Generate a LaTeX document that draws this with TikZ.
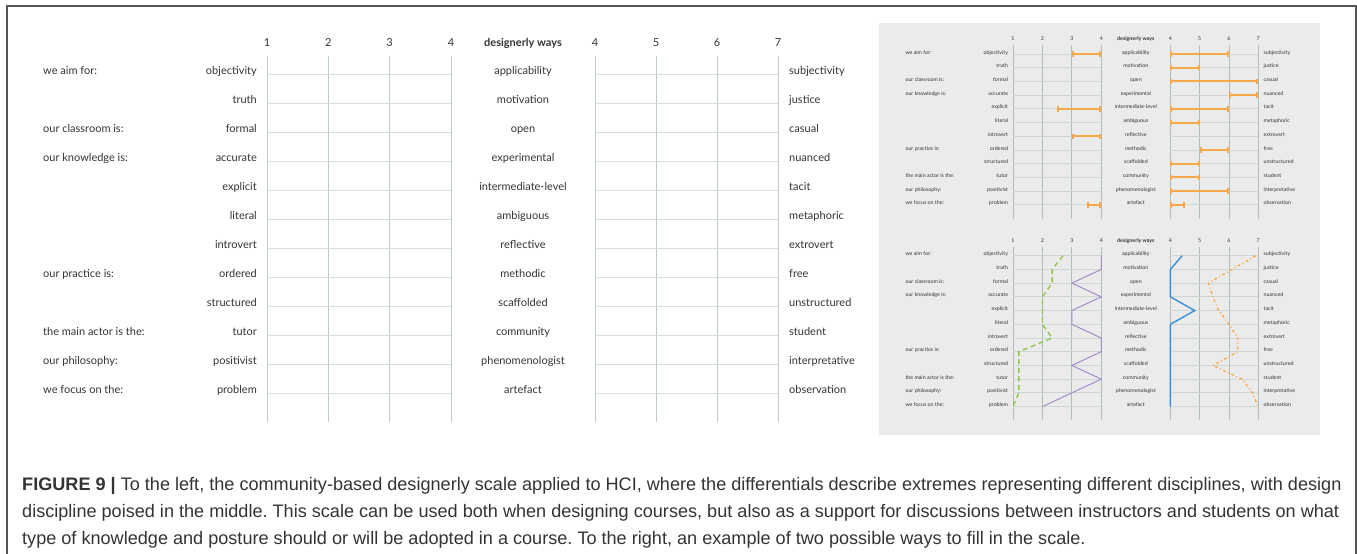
\documentclass[tikz,border=0pt]{standalone}
\usepackage{fontspec}
\setmainfont{Lato}
\newfontfamily\capfont{Liberation Sans}
\usetikzlibrary{arrows.meta}
\frenchspacing

\definecolor{frameline}{HTML}{555555}
\definecolor{labtext}{HTML}{333333}
\definecolor{minitext}{HTML}{222222}
\definecolor{captext}{HTML}{333333}
\definecolor{gridv}{HTML}{BCCBC6}
\definecolor{gridh}{HTML}{D5E0DC}
\definecolor{minigridv}{HTML}{B0BFBA}
\definecolor{minigridh}{HTML}{CCD6D3}
\definecolor{panelbg}{HTML}{EBEBEB}
\definecolor{rangeorange}{HTML}{F5A94A}
\definecolor{limegreen}{HTML}{8CC63F}
\definecolor{lavender}{HTML}{A58CC8}
\definecolor{skyblue}{HTML}{3B8ED6}

\tikzset{
  lab/.style={font=\fontsize{11}{13}\selectfont, text=labtext, inner sep=0pt},
  headlab/.style={lab, anchor=base},
  captionline/.style={font=\capfont\fontsize{18.1}{20}\selectfont, text=captext, inner sep=0pt, anchor=base west},
  rangebar/.style={draw=rangeorange, line width=2pt, {Bar[width=5.5pt]}-{Bar[width=5.5pt]}},
  miniscale/.style={xscale=0.48, yscale=0.473, every node/.append style={transform shape}},
}

% One complete semantic-differential scale; #1 = node-name prefix,
% #2 / #3 = colours of the vertical / horizontal rules, #4 = text colour.
\newcommand{\drawscale}[4]{%
  \foreach \x in {267,328.33,389.67,451,595,656,717,778}
    \draw[line width=0.8pt, draw=#2] (\x,56) -- (\x,422);
  \foreach \i in {0,...,11}{
    \draw[line width=0.8pt, draw=#3] (267,{ry(\i)}) -- (451,{ry(\i)});
    \draw[line width=0.8pt, draw=#3] (595,{ry(\i)}) -- (778,{ry(\i)});
  }
  \begin{scope}[every node/.append style={text=#4}]
  \foreach \n in {1,2,3,4}
    \node[headlab] (#1left\n) at ({lx(\n)},46) {\n};
  \foreach \n in {4,5,6,7}
    \node[headlab] (#1right\n) at ({rx(\n)},46) {\n};
  \node[headlab, font=\fontsize{11}{13}\selectfont\bfseries] (#1head) at (523,46) {designerly ways};
  \foreach \l/\m/\r [count=\i from 0] in {
      objectivity/applicability/subjectivity,
      truth/motivation/justice,
      formal/open/casual,
      accurate/experimental/nuanced,
      explicit/intermediate-level/tacit,
      literal/ambiguous/metaphoric,
      introvert/reflective/extrovert,
      ordered/methodic/free,
      structured/scaffolded/unstructured,
      tutor/community/student,
      positivist/phenomenologist/interpretative,
      problem/artefact/observation}{
    \node[lab, anchor=base east] (#1l\i) at (257,{ry(\i)}) {\l};
    \node[lab, anchor=base] (#1m\i) at (523,{ry(\i)}) {\m};
    \node[lab, anchor=base west] (#1r\i) at (789,{ry(\i)}) {\r};
  }
  \foreach \g/\i in {we aim for:/0, our classroom is:/2, our knowledge is:/3,
      our practice is:/7, the main actor is the:/9, our philosophy:/10,
      we focus on the:/11}
    \node[lab, anchor=base west] (#1g\i) at (43,{ry(\i)}) {\g};
  \end{scope}
}

\begin{document}
\begin{tikzpicture}[x=1pt, y=-1pt,
  declare function={lx(\v)=267+61.333*(\v-1); rx(\v)=595+61*(\v-4); ry(\i)=74+29*\i;}]
\useasboundingbox (0,0) rectangle (1357,554);

% outer frame, open at the bottom
\draw[frameline, line width=1.2pt] (7,554) -- (7,6) -- (1356,6) -- (1356,554);

% blank scale
\drawscale{A}{gridv}{gridh}{labtext}

% examples panel
\fill[panelbg] (879,23) rectangle (1320,435);

% example 1: ranges
\begin{scope}[shift={(884.8,19)}, miniscale]
  \drawscale{B}{minigridv}{minigridh}{minitext}
  \draw[rangebar] ({lx(3)},{ry(0)}) -- ({lx(4)},{ry(0)});
  \draw[rangebar] ({lx(2.5)},{ry(4)}) -- ({lx(4)},{ry(4)});
  \draw[rangebar] ({lx(3)},{ry(6)}) -- ({lx(4)},{ry(6)});
  \draw[rangebar] ({lx(3.5)},{ry(11)}) -- ({lx(4)},{ry(11)});
  \foreach \a/\b/\i in {4/6/0, 4/5/1, 4/7/2, 6/7/3, 4/6/4, 4/5/5, 5/6/7,
      4/5/8, 4/5/9, 4/6/10, 4/4.5/11}
    \draw[rangebar] ({rx(\a)},{ry(\i)}) -- ({rx(\b)},{ry(\i)});
\end{scope}

% example 2: profiles
\begin{scope}[shift={(884.8,220.7)}, miniscale]
  \drawscale{C}{minigridv}{minigridh}{minitext}
  \draw[limegreen, line width=1.3pt, dash pattern=on 5pt off 3.5pt]
    ({lx(2.7)},{ry(0)})
    \foreach \v [count=\i from 1] in {2.33,2.33,2,2,2,2.33,1.2,1.2,1.2,1.2,1}
      { -- ({lx(\v)},{ry(\i)}) };
  \draw[lavender, line width=1pt, line join=miter]
    ({lx(4)},{ry(0)})
    \foreach \v [count=\i from 1] in {4,3,4,3,3,4,4,3,4,3,2}
      { -- ({lx(\v)},{ry(\i)}) };
  \draw[skyblue, line width=1.4pt]
    ({rx(4.4)},{ry(0)})
    \foreach \v [count=\i from 1] in {4,4,4,4.83,4,4,4,4,4,4,4}
      { -- ({rx(\v)},{ry(\i)}) };
  \draw[rangeorange, line width=1.3pt, dash pattern=on 3pt off 2.5pt on 1pt off 2.5pt]
    ({rx(6.92)},{ry(0)})
    \foreach \v [count=\i from 1] in {6.1,5.3,5.45,5.65,6,6.3,6.3,5.45,6.45,6.8,7}
      { -- ({rx(\v)},{ry(\i)}) };
\end{scope}

% caption
\node[captionline] (cap1) at (22,490) {\textbf{FIGURE 9 |} To the left, the community-based designerly scale applied to HCI, where the differentials describe extremes representing different disciplines, with design};
\node[captionline] (cap2) at (22,517) {discipline poised in the middle. This scale can be used both when designing courses, but also as a support for discussions between instructors and students on what};
\node[captionline] (cap3) at (22,544) {type of knowledge and posture should or will be adopted in a course. To the right, an example of two possible ways to fill in the scale.};
\end{tikzpicture}
\end{document}
